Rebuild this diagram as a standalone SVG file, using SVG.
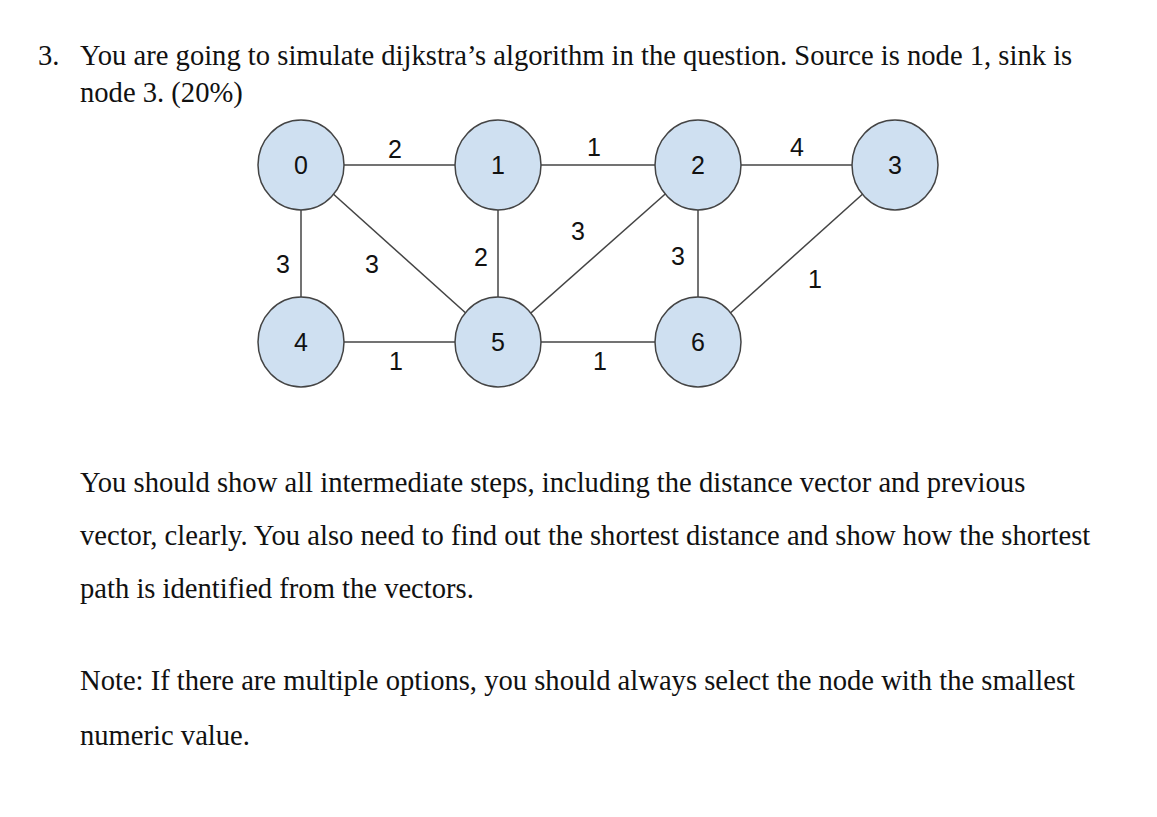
<svg xmlns="http://www.w3.org/2000/svg" width="1157" height="817" viewBox="0 0 1157 817">
<style>
.t{font-family:"Liberation Serif",serif;font-size:28.6px;fill:#111}
.n ellipse{fill:#cfe0f1;stroke:#444;stroke-width:1.5}
.n text,.w{font-family:"Liberation Sans",Arial,sans-serif;font-size:25px;fill:#111;text-anchor:middle}
.e line{stroke:#444;stroke-width:1.5}
</style>
<rect width="1157" height="817" fill="#fff"/>
<text class="t" x="38" y="65">3.</text>
<text class="t" x="80" y="65">You are going to simulate dijkstra’s algorithm in the question. Source is node 1, sink is</text>
<text class="t" x="80" y="102">node 3. (20%)</text>
<g class="e">
<line x1="301" y1="165" x2="498" y2="165"/>
<line x1="498" y1="165" x2="698" y2="165"/>
<line x1="698" y1="165" x2="895" y2="165"/>
<line x1="301" y1="165" x2="301" y2="342"/>
<line x1="301" y1="165" x2="498" y2="342"/>
<line x1="498" y1="165" x2="498" y2="342"/>
<line x1="698" y1="165" x2="498" y2="342"/>
<line x1="698" y1="165" x2="698" y2="342"/>
<line x1="895" y1="165" x2="698" y2="342"/>
<line x1="301" y1="342" x2="698" y2="342"/>
</g>
<g id="labels">
<text class="w" x="395" y="158">2</text>
<text class="w" x="594" y="156">1</text>
<text class="w" x="797" y="156">4</text>
<text class="w" x="283" y="273">3</text>
<text class="w" x="372" y="273">3</text>
<text class="w" x="481" y="266">2</text>
<text class="w" x="578" y="240">3</text>
<text class="w" x="678" y="265">3</text>
<text class="w" x="815" y="288">1</text>
<text class="w" x="396" y="370">1</text>
<text class="w" x="600" y="370">1</text>
</g>
<g id="node0" class="n"><ellipse cx="301" cy="165" rx="43" ry="45"/><text x="301" y="174">0</text></g>
<g id="node1" class="n"><ellipse cx="498" cy="165" rx="43" ry="45"/><text x="498" y="174">1</text></g>
<g id="node2" class="n"><ellipse cx="698" cy="165" rx="43" ry="45"/><text x="698" y="174">2</text></g>
<g id="node3" class="n"><ellipse cx="895" cy="165" rx="43" ry="45"/><text x="895" y="174">3</text></g>
<g id="node4" class="n"><ellipse cx="301" cy="342" rx="43" ry="45"/><text x="301" y="351">4</text></g>
<g id="node5" class="n"><ellipse cx="498" cy="342" rx="43" ry="45"/><text x="498" y="351">5</text></g>
<g id="node6" class="n"><ellipse cx="698" cy="342" rx="43" ry="45"/><text x="698" y="351">6</text></g>
<text class="t" x="80" y="492">You should show all intermediate steps, including the distance vector and previous</text>
<text class="t" x="80" y="545">vector, clearly. You also need to find out the shortest distance and show how the shortest</text>
<text class="t" x="80" y="598">path is identified from the vectors.</text>
<text class="t" x="80" y="690">Note: If there are multiple options, you should always select the node with the smallest</text>
<text class="t" x="80" y="745">numeric value.</text>
</svg>
